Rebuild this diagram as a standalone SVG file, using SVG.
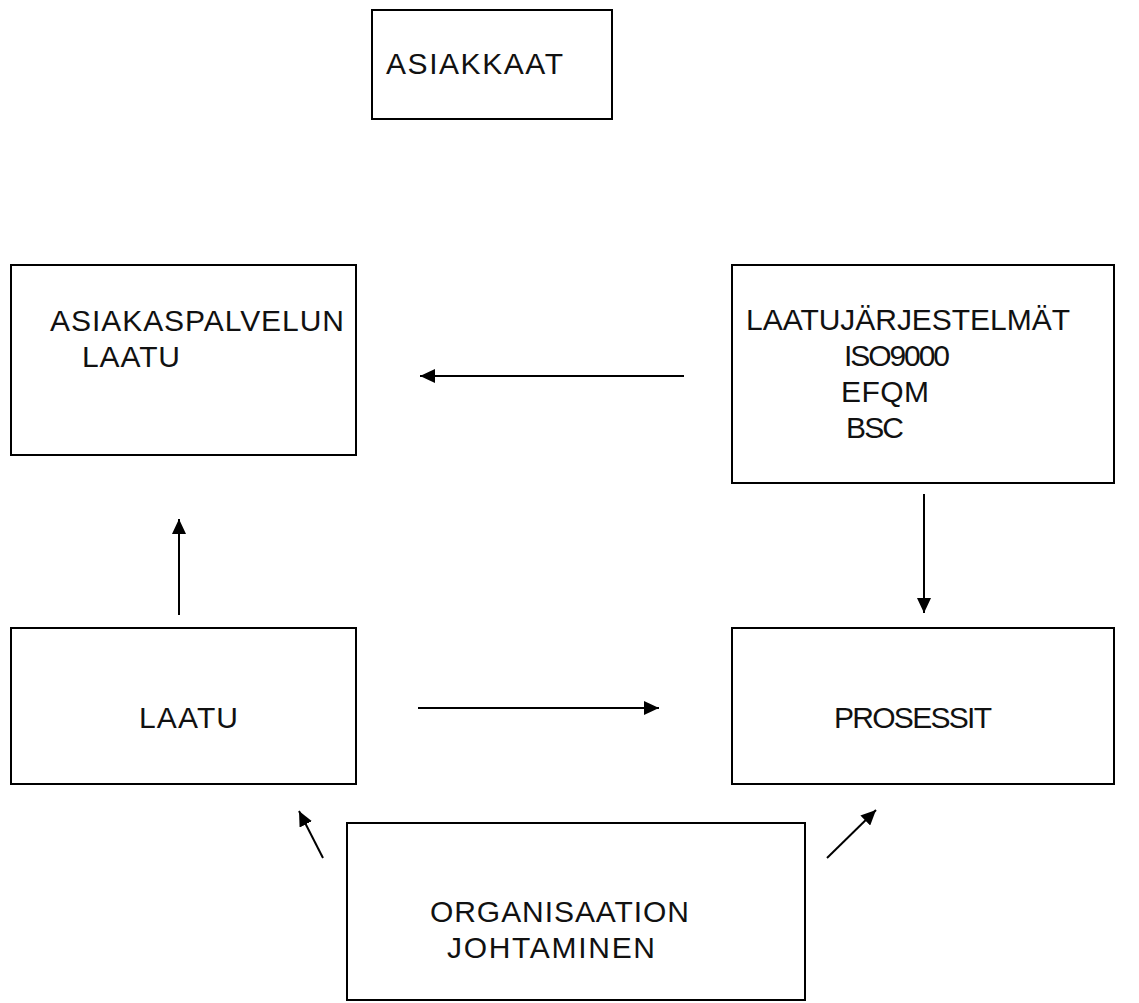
<svg xmlns="http://www.w3.org/2000/svg" width="1139" height="1003" viewBox="0 0 1139 1003">
  <style>
    .box { fill: #ffffff; stroke: #000000; stroke-width: 2; }
    .lbl { font-family: "Liberation Sans", Arial, sans-serif; font-size: 30px; fill: #111111; }
    .arrow { stroke: #000000; stroke-width: 2; fill: none; marker-end: url(#head); }
  </style>
  <defs>
    <!-- filled triangular arrowhead, tip at the end of the line -->
    <marker id="head" markerUnits="userSpaceOnUse" markerWidth="16" markerHeight="14" refX="15" refY="7" orient="auto">
      <path d="M0,0 L15,7 L0,14 z" fill="#000000"/>
    </marker>
  </defs>
  <rect width="1139" height="1003" fill="#ffffff"/>

  <g id="asiakkaat">
    <rect class="box" x="372" y="10" width="240" height="109"/>
    <text class="lbl" x="386" y="74" textLength="177">ASIAKKAAT</text>
  </g>

  <g id="asiakaspalvelun-laatu">
    <rect class="box" x="11" y="265" width="345" height="190"/>
    <text class="lbl" x="50" y="331" textLength="294">ASIAKASPALVELUN</text>
    <text class="lbl" x="82" y="367" textLength="98">LAATU</text>
  </g>

  <g id="laatujarjestelmat">
    <rect class="box" x="732" y="265" width="382" height="218"/>
    <text class="lbl" x="746" y="330" textLength="324">LAATUJÄRJESTELMÄT</text>
    <text class="lbl" x="844" y="366" textLength="106">ISO9000</text>
    <text class="lbl" x="841" y="402" textLength="88">EFQM</text>
    <text class="lbl" x="846" y="438" textLength="58">BSC</text>
  </g>

  <g id="laatu">
    <rect class="box" x="11" y="628" width="345" height="156"/>
    <text class="lbl" x="139" y="728" textLength="99">LAATU</text>
  </g>

  <g id="prosessit">
    <rect class="box" x="732" y="628" width="382" height="156"/>
    <text class="lbl" x="834" y="728" textLength="158">PROSESSIT</text>
  </g>

  <g id="organisaation-johtaminen">
    <rect class="box" x="347" y="823" width="458" height="177"/>
    <text class="lbl" x="430" y="922" textLength="259">ORGANISAATION</text>
    <text class="lbl" x="447" y="958" textLength="208">JOHTAMINEN</text>
  </g>

  <g id="connectors">
    <line class="arrow" x1="684" y1="376" x2="420" y2="376"/>
    <line class="arrow" x1="924" y1="494" x2="924" y2="613"/>
    <line class="arrow" x1="179" y1="615" x2="179" y2="519"/>
    <line class="arrow" x1="418" y1="708" x2="659" y2="708"/>
    <line class="arrow" x1="323" y1="858" x2="299" y2="811"/>
    <line class="arrow" x1="827" y1="858" x2="876" y2="810"/>
  </g>
</svg>
